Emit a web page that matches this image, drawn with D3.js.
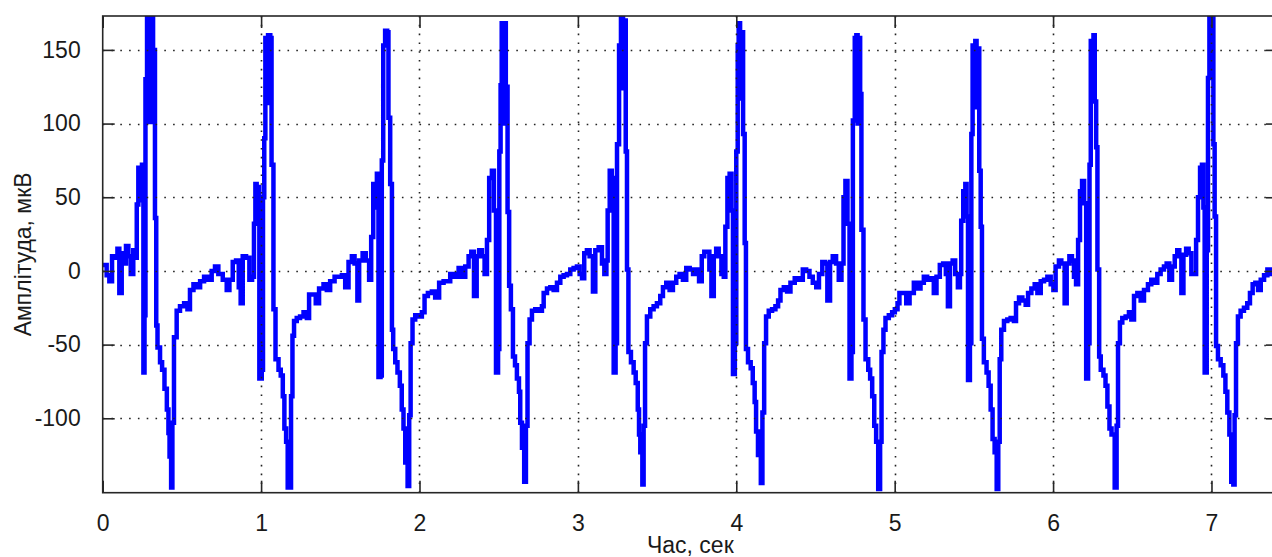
<!DOCTYPE html>
<html>
<head>
<meta charset="utf-8">
<script src="https://cdn.jsdelivr.net/npm/d3@7/dist/d3.min.js"></script>
<style>
  body { margin: 0; background: #fff; }
  svg { display: block; }
  text { font-family: "Liberation Sans", Arial, Helvetica, sans-serif; fill: #1a1a1a; }
</style>
</head>
<body>
<div id="chart"></div>
<script>
var svgWidth = 1272, svgHeight = 557;

// ECG trace, [time in s, amplitude in uV], one array per cycle
var cycle01 = [[0,4],[0.025,-3],[0.042,-7],[0.059,10],[0.078,9],[0.093,15],[0.105,-15],[0.120,12],[0.135,5],[0.147,17],[0.162,10],[0.177,-2],[0.193,14],[0.206,9],[0.215,45],[0.225,70],[0.238,48],[0.248,72],[0.257,-69],[0.264,-30],[0.270,130],[0.280,176],[0.298,101],[0.306,176],[0.318,150],[0.330,36],[0.338,-37],[0.346,-52],[0.362,-62],[0.375,-67],[0.390,-80],[0.405,-94],[0.415,-110],[0.422,-126],[0.432,-147],[0.440,-103],[0.450,-45],[0.467,-27],[0.488,-24]];
var cycle02 = [[0.514,-22],[0.535,-26],[0.551,-13],[0.573,-9],[0.593,-11],[0.615,-7],[0.640,-4],[0.661,-6],[0.688,0],[0.709,3],[0.730,-2],[0.758,-6],[0.783,-13],[0.800,-6],[0.821,6],[0.842,7],[0.859,-11],[0.871,-22],[0.884,10],[0.905,9],[0.926,-6],[0.943,-4],[0.955,32],[0.964,59],[0.972,41],[0.981,57],[0.989,-73],[1.004,-67],[1.012,50],[1.020,90],[1.027,158],[1.036,114],[1.044,160],[1.058,158],[1.066,72],[1.078,-26],[1.091,-60],[1.110,-67],[1.124,-71],[1.137,-85],[1.147,-107],[1.158,-116],[1.168,-147],[1.179,-147],[1.189,-85],[1.198,-44],[1.208,-34],[1.225,-32]];
var cycle03 = [[1.246,-31],[1.268,-28],[1.289,-32],[1.303,-16],[1.320,-16],[1.345,-22],[1.366,-12],[1.394,-9],[1.415,-13],[1.436,-7],[1.464,-4],[1.489,-4],[1.510,-3],[1.531,-11],[1.552,6],[1.573,10],[1.590,5],[1.608,-20],[1.619,7],[1.641,12],[1.661,7],[1.682,-6],[1.695,23],[1.708,59],[1.720,43],[1.731,66],[1.741,-72],[1.754,-71],[1.762,75],[1.771,153],[1.783,163],[1.796,162],[1.804,104],[1.815,59],[1.826,-40],[1.834,-53],[1.847,-62],[1.861,-69],[1.876,-78],[1.888,-94],[1.899,-107],[1.910,-130],[1.925,-146],[1.935,-98],[1.944,-49],[1.956,-33],[1.973,-30]];
var cycle04 = [[1.998,-31],[2.015,-28],[2.032,-17],[2.053,-15],[2.078,-14],[2.099,-18],[2.124,-8],[2.152,-7],[2.179,-7],[2.194,-2],[2.222,-4],[2.247,2],[2.268,-4],[2.289,3],[2.310,10],[2.327,13],[2.344,-17],[2.361,10],[2.377,14],[2.394,10],[2.411,-2],[2.426,21],[2.440,63],[2.457,68],[2.470,41],[2.483,-69],[2.496,-53],[2.504,81],[2.512,126],[2.519,168],[2.527,100],[2.534,168],[2.545,125],[2.556,40],[2.566,-10],[2.577,-26],[2.590,-58],[2.603,-64],[2.615,-73],[2.628,-82],[2.636,-103],[2.647,-120],[2.661,-143],[2.672,-105],[2.682,-49],[2.695,-33],[2.710,-27],[2.731,-26]];
var cycle05 = [[2.752,-27],[2.773,-24],[2.784,-15],[2.805,-12],[2.826,-11],[2.847,-13],[2.868,-8],[2.889,-4],[2.910,-3],[2.931,-2],[2.952,1],[2.973,2],[2.994,3],[3.011,-2],[3.026,-5],[3.040,12],[3.057,14],[3.074,10],[3.095,-14],[3.110,14],[3.131,16],[3.152,5],[3.167,-2],[3.180,7],[3.188,41],[3.201,68],[3.214,63],[3.226,-69],[3.238,-49],[3.247,86],[3.260,153],[3.272,174],[3.285,124],[3.293,170],[3.302,81],[3.310,1],[3.319,-55],[3.335,-62],[3.352,-69],[3.365,-76],[3.378,-94],[3.386,-111],[3.394,-123],[3.407,-145],[3.415,-105],[3.424,-49],[3.436,-31],[3.457,-26]];
var cycle06 = [[3.478,-24],[3.499,-22],[3.520,-17],[3.537,-11],[3.558,-8],[3.579,-13],[3.600,-8],[3.621,-4],[3.642,-2],[3.663,-6],[3.684,2],[3.706,1],[3.727,-2],[3.752,1],[3.765,-7],[3.782,10],[3.798,13],[3.830,1],[3.843,-17],[3.858,10],[3.873,15],[3.889,10],[3.906,-2],[3.921,-4],[3.931,30],[3.944,63],[3.958,66],[3.970,41],[3.979,-70],[3.991,-49],[4.000,81],[4.009,153],[4.015,168],[4.024,117],[4.032,162],[4.043,93],[4.053,19],[4.061,-53],[4.074,-62],[4.091,-66],[4.104,-76],[4.116,-89],[4.125,-109],[4.137,-125],[4.155,-144],[4.165,-96],[4.176,-49],[4.188,-31],[4.205,-27]];
var cycle07 = [[4.226,-26],[4.247,-24],[4.264,-20],[4.279,-13],[4.300,-11],[4.321,-14],[4.342,-8],[4.369,-5],[4.395,-6],[4.420,1],[4.441,0],[4.462,-4],[4.483,-8],[4.505,-11],[4.522,-2],[4.543,6],[4.560,5],[4.575,-20],[4.592,6],[4.609,10],[4.630,5],[4.647,-6],[4.664,5],[4.677,50],[4.689,61],[4.702,32],[4.715,-73],[4.727,-55],[4.736,102],[4.748,158],[4.758,160],[4.766,100],[4.774,158],[4.782,120],[4.790,28],[4.803,-33],[4.816,-60],[4.833,-67],[4.845,-73],[4.858,-85],[4.871,-105],[4.883,-116],[4.896,-148],[4.908,-116],[4.917,-55],[4.929,-40],[4.942,-32]];
var cycle08 = [[4.963,-30],[4.984,-28],[5.001,-26],[5.018,-22],[5.030,-15],[5.051,-15],[5.073,-22],[5.094,-15],[5.121,-8],[5.142,-12],[5.163,-8],[5.184,-4],[5.205,-6],[5.226,-5],[5.247,-15],[5.264,-4],[5.285,4],[5.306,5],[5.323,-2],[5.336,-24],[5.349,5],[5.366,7],[5.382,-2],[5.399,-11],[5.412,-2],[5.420,34],[5.433,54],[5.446,59],[5.454,37],[5.463,-74],[5.475,-49],[5.484,93],[5.492,153],[5.509,156],[5.517,111],[5.526,151],[5.534,68],[5.543,30],[5.551,-46],[5.563,-62],[5.580,-69],[5.593,-78],[5.606,-94],[5.618,-114],[5.631,-123],[5.644,-148],[5.654,-116],[5.663,-60],[5.673,-40],[5.690,-34]];
var cycle09 = [[5.711,-33],[5.732,-32],[5.753,-34],[5.766,-22],[5.785,-18],[5.806,-20],[5.827,-23],[5.842,-15],[5.863,-12],[5.884,-9],[5.901,-15],[5.922,-7],[5.943,-6],[5.964,-4],[5.985,-9],[6.002,-13],[6.016,3],[6.037,7],[6.052,5],[6.073,-22],[6.086,5],[6.103,10],[6.119,7],[6.132,-4],[6.145,-9],[6.158,21],[6.170,54],[6.183,61],[6.196,46],[6.209,-73],[6.221,-49],[6.230,72],[6.238,156],[6.255,160],[6.263,115],[6.272,84],[6.280,1],[6.291,-58],[6.301,-67],[6.318,-71],[6.331,-78],[6.343,-92],[6.356,-107],[6.369,-111],[6.389,-147],[6.401,-105],[6.410,-49],[6.422,-35],[6.437,-32]];
var cycle10 = [[6.458,-31],[6.479,-28],[6.494,-33],[6.511,-17],[6.532,-15],[6.553,-20],[6.574,-13],[6.599,-9],[6.620,-6],[6.637,-8],[6.658,-2],[6.679,1],[6.700,3],[6.717,5],[6.734,-6],[6.751,3],[6.768,10],[6.784,14],[6.797,10],[6.810,-15],[6.823,11],[6.840,15],[6.856,12],[6.873,-2],[6.890,-2],[6.903,21],[6.915,50],[6.928,70],[6.940,72],[6.949,43],[6.957,-69],[6.970,14],[6.978,131],[6.987,176],[7.003,176],[7.012,86],[7.020,37],[7.029,-51],[7.041,-60],[7.058,-64],[7.075,-71],[7.088,-82],[7.100,-96],[7.113,-111],[7.125,-143],[7.138,-145],[7.146,-98],[7.155,-49],[7.167,-31],[7.184,-27],[7.205,-25],[7.226,-22],[7.243,-15],[7.260,-9],[7.277,-8],[7.294,-13],[7.311,-6],[7.332,-3],[7.353,1],[7.374,-2],[7.395,1],[7.42,2]];

var xTicks = [0, 1, 2, 3, 4, 5, 6, 7];
var yTicks = [-100, -50, 0, 50, 100, 150];
var xLabel = "Час, сек";
var yLabel = "Амплітуда, мкВ";

var signal = [].concat(cycle01, cycle02, cycle03, cycle04, cycle05,
                       cycle06, cycle07, cycle08, cycle09, cycle10);

// plot box (right side runs a bit past the window, like the picture)
// NB: can't call it "top", window.top is taken
var boxLeft = 102.7, boxRight = 1278, boxTop = 16, boxBottom = 492.7, tickLen = 12;

var x = d3.scaleLinear().domain([0, 7.42]).range([boxLeft, boxRight]);
var y = d3.scaleLinear().domain([-150.5, 173]).range([boxBottom, boxTop]);

var svg = d3.select("#chart")
  .append("svg")
  .attr("width", svgWidth)
  .attr("height", svgHeight);

svg.append("clipPath")
  .attr("id", "plotclip")
  .append("rect")
  .attr("x", boxLeft).attr("y", boxTop)
  .attr("width", boxRight - boxLeft).attr("height", boxBottom - boxTop);

// the trace - sampled signal, so hold each value until the next sample
var line = d3.line()
  .curve(d3.curveStepAfter)
  .x(d => x(d[0]))
  .y(d => y(d[1]));

svg.append("path")
  .datum(signal)
  .attr("clip-path", "url(#plotclip)")
  .attr("d", line)
  .attr("fill", "none")
  .attr("stroke", "#0000ff")
  .attr("stroke-width", 4.5)
  .attr("stroke-linejoin", "miter");

// dotted grid, drawn on top like matlab does
var grid = svg.append("g")
  .attr("stroke", "#222")
  .attr("stroke-width", 1.6)
  .attr("stroke-dasharray", "1.6,7.2");

grid.selectAll("line.gx")
  .data(xTicks.filter(d => d > 0))
  .enter().append("line")
  .attr("class", "gx")
  .attr("x1", d => Math.round(x(d)) + 0.5).attr("x2", d => Math.round(x(d)) + 0.5)
  .attr("y1", boxTop).attr("y2", boxBottom);

grid.selectAll("line.gy")
  .data(yTicks)
  .enter().append("line")
  .attr("class", "gy")
  .attr("x1", boxLeft).attr("x2", boxRight)
  .attr("y1", d => Math.round(y(d)) + 0.5).attr("y2", d => Math.round(y(d)) + 0.5);

// axes: ticks point inward on all four sides, plain hyphen for negatives
var fmt = d => String(d);
var axisBottom = d3.axisBottom(x).tickValues(xTicks).tickSizeInner(-tickLen).tickSizeOuter(0).tickPadding(tickLen + 10).tickFormat(fmt);
var axisTop = d3.axisTop(x).tickValues(xTicks).tickSizeInner(-tickLen).tickSizeOuter(0).tickFormat("");
var axisLeft = d3.axisLeft(y).tickValues(yTicks).tickSizeInner(-tickLen).tickSizeOuter(0).tickPadding(tickLen + 10).tickFormat(fmt);
var axisRight = d3.axisRight(y).tickValues(yTicks).tickSizeInner(-tickLen).tickSizeOuter(0).tickFormat("");

function styleAxis(g) {
  g.select(".domain").remove();
  g.selectAll(".tick line").attr("stroke", "#262626").attr("stroke-width", 1.6);
  g.selectAll(".tick text").attr("font-size", 23).attr("fill", "#1a1a1a")
    .style("font-family", "'Liberation Sans', Arial, sans-serif");
}

svg.append("g").attr("transform", "translate(0," + boxBottom + ")").call(axisBottom).call(styleAxis);
svg.append("g").attr("transform", "translate(0," + boxTop + ")").call(axisTop).call(styleAxis);
svg.append("g").attr("transform", "translate(" + boxLeft + ",0)").call(axisLeft).call(styleAxis);
svg.append("g").attr("transform", "translate(" + boxRight + ",0)").call(axisRight).call(styleAxis);

// box
svg.append("rect")
  .attr("x", boxLeft).attr("y", boxTop)
  .attr("width", boxRight - boxLeft).attr("height", boxBottom - boxTop)
  .attr("fill", "none")
  .attr("stroke", "#262626")
  .attr("stroke-width", 1.6);

// axis titles
svg.append("text")
  .attr("x", (boxLeft + boxRight) / 2)
  .attr("y", 553)
  .attr("text-anchor", "middle")
  .attr("font-size", 23)
  .text(xLabel);

svg.append("text")
  .attr("transform", "translate(31," + ((boxTop + boxBottom) / 2) + ") rotate(-90)")
  .attr("text-anchor", "middle")
  .attr("font-size", 23)
  .text(yLabel);
</script>
</body>
</html>
